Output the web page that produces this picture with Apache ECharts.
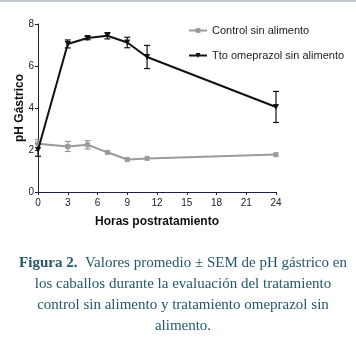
<!DOCTYPE html>
<html>
<head>
<meta charset="utf-8">
<script src="https://cdn.jsdelivr.net/npm/echarts@6/dist/echarts.min.js"></script>
<style>
  html, body { margin: 0; padding: 0; background: #fff; }
  #chart { width: 356px; height: 342px; }
</style>
</head>
<body>
<div id="chart"></div>
<script>
const hours = [0, 3, 5, 7, 9, 11, 24]
const controlMean = [2.3, 2.17, 2.25, 1.89, 1.55, 1.6, 1.78]
const controlSem = [0.2, 0.24, 0.2, 0, 0, 0, 0]
const ttoMean = [2.0, 7.05, 7.33, 7.44, 7.12, 6.43, 4.05]
const ttoSem = [0.3, 0.19, 0.08, 0.15, 0.25, 0.55, 0.74]
const xTicks = [0, 3, 6, 9, 12, 15, 18, 21, 24]
const yTicks = [0, 2, 4, 6, 8]

const captionLines = [
  '{b|Figura 2.}  Valores promedio ± SEM de pH gástrico en',
  'los caballos durante la evaluación del tratamiento',
  'control sin alimento y tratamiento omeprazol sin',
  'alimento.'
]

const chart = echarts.init(document.getElementById('chart'))

function errorBars(mean, sem, color) {
  return {
    type: 'custom',
    silent: true,
    z: 1,
    data: hours.map((h, i) => [h, mean[i], sem[i]]),
    renderItem: (params, api) => {
      const x = api.value(0)
      const m = api.value(1)
      const s = api.value(2)
      if (!s) return null
      const top = api.coord([x, m + s])
      const bot = api.coord([x, m - s])
      const w = 3
      const style = { stroke: color, lineWidth: 1.2 }
      return {
        type: 'group',
        children: [
          { type: 'line', shape: { x1: top[0], y1: top[1], x2: bot[0], y2: bot[1] }, style },
          { type: 'line', shape: { x1: top[0] - w, y1: top[1], x2: top[0] + w, y2: top[1] }, style },
          { type: 'line', shape: { x1: bot[0] - w, y1: bot[1], x2: bot[0] + w, y2: bot[1] }, style }
        ]
      }
    }
  }
}

const axisColor = '#1e1e4a'
const labelFont = { fontFamily: 'Arial, "Liberation Sans"', fontSize: 10, color: '#222' }

const option = {
  animation: false,
  backgroundColor: '#fff',
  grid: { left: 38, right: 80, top: 24, bottom: 150, outerBoundsMode: 'none' },
  title: {
    text: captionLines.join('\n'),
    left: 178,
    top: 248,
    textAlign: 'center',
    textStyle: {
      fontFamily: '"Liberation Serif", "Times New Roman", serif',
      fontSize: 15,
      fontWeight: 'normal',
      color: '#245868',
      lineHeight: 21,
      rich: {
        b: { fontFamily: '"Liberation Serif", serif', fontSize: 15, fontWeight: 'bold', color: '#245868', lineHeight: 21 }
      }
    }
  },
  legend: {
    orient: 'vertical',
    left: 183,
    top: 20,
    itemGap: 14,
    itemWidth: 18,
    itemHeight: 6,
    textStyle: { fontFamily: 'Arial, "Liberation Sans"', fontSize: 11, color: '#222' },
    data: ['Control sin alimento', 'Tto omeprazol sin alimento']
  },
  xAxis: {
    type: 'value',
    min: 0,
    max: 24,
    interval: 3,
    name: 'Horas postratamiento',
    nameLocation: 'middle',
    nameGap: 24,
    nameMoveOverlap: false,
    nameTextStyle: { fontFamily: 'Arial, "Liberation Sans"', fontSize: 12, fontWeight: 'bold', color: '#111' },
    axisLine: { lineStyle: { color: axisColor, width: 1 } },
    axisTick: { show: true, length: 3, lineStyle: { color: axisColor } },
    axisLabel: { ...labelFont, margin: 6 },
    splitLine: { show: false }
  },
  yAxis: {
    type: 'value',
    min: 0,
    max: 8,
    interval: 2,
    name: 'pH Gástrico',
    nameLocation: 'middle',
    nameGap: 12,
    nameMoveOverlap: false,
    nameRotate: 90,
    nameTextStyle: { fontFamily: 'Arial, "Liberation Sans"', fontSize: 12, fontWeight: 'bold', color: '#111' },
    axisLine: { show: true, lineStyle: { color: axisColor, width: 1 } },
    axisTick: { show: true, length: 3, lineStyle: { color: axisColor } },
    axisLabel: { ...labelFont, margin: 4 },
    splitLine: { show: false }
  },
  graphic: [
    { type: 'rect', shape: { x: 0, y: 0, width: 356, height: 2 }, style: { fill: '#c4c8d0' } }
  ],
  series: [
    errorBars(controlMean, controlSem, '#999'),
    errorBars(ttoMean, ttoSem, '#111'),
    {
      name: 'Control sin alimento',
      type: 'line',
      data: hours.map((h, i) => [h, controlMean[i]]),
      symbol: 'rect',
      symbolSize: 5,
      lineStyle: { color: '#9a9a9a', width: 2 },
      itemStyle: { color: '#9a9a9a' },
      z: 3
    },
    {
      name: 'Tto omeprazol sin alimento',
      type: 'line',
      data: hours.map((h, i) => [h, ttoMean[i]]),
      symbol: 'triangle',
      symbolRotate: 180,
      symbolSize: 6,
      lineStyle: { color: '#111', width: 2 },
      itemStyle: { color: '#111' },
      z: 4
    }
  ]
}

chart.setOption(option)
window.addEventListener('resize', () => chart.resize())
</script>
</body>
</html>
